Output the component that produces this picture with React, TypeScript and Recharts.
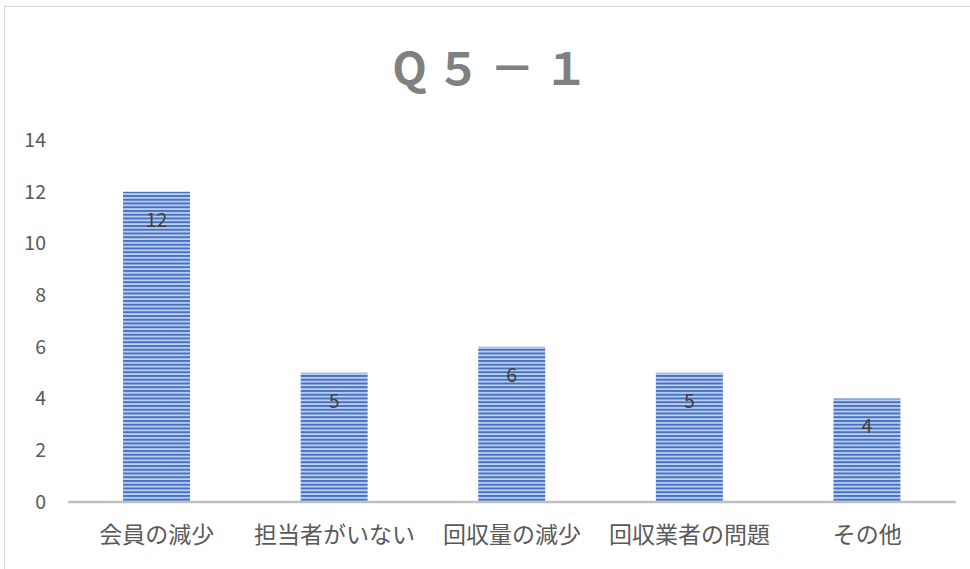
import { BarChart, Bar, XAxis, YAxis, LabelList } from "recharts";

const CATEGORIES = ["会員の減少", "担当者がいない", "回収量の減少", "回収業者の問題", "その他"];
const VALUES = [12, 5, 6, 5, 4];
const Y_TICKS = [0, 2, 4, 6, 8, 10, 12, 14];
const TITLE = "Q５－１";

const data = CATEGORIES.map((name, i) => ({ name, value: VALUES[i] }));

const FONT = "'Noto Sans CJK JP', 'Noto Sans', sans-serif";

export default function App() {
  return (
    <div style={{ position: "fixed", left: 0, top: 0, width: 970, height: 569, overflow: "hidden", background: "#fff" }}>
      <div
        style={{
          position: "absolute",
          left: 4,
          top: 6,
          width: 1000,
          height: 600,
          border: "1.5px solid #d9d9d9",
          boxSizing: "border-box",
        }}
      />
      <div
        style={{
          position: "absolute",
          left: 0,
          top: 36,
          width: 990,
          textAlign: "center",
          fontFamily: FONT,
          fontWeight: 700,
          fontSize: 45,
          letterSpacing: 9,
          color: "#808080",
          lineHeight: "60px",
        }}
      >
        {TITLE}
      </div>
      <div style={{ position: "absolute", left: 0, top: 0 }}>
        <BarChart
          width={970}
          height={569}
          data={data}
          margin={{ top: 140, right: 14, bottom: 27, left: 0 }}
          barCategoryGap="31%"
        >
          <defs>
            <pattern id="stripes" width="8" height="3.75" patternUnits="userSpaceOnUse">
              <rect x="0" y="0" width="8" height="3.75" fill="#c3d2ee" />
              <rect x="0" y="0" width="8" height="2" fill="#4472c4" />
            </pattern>
          </defs>
          <XAxis
            dataKey="name"
            axisLine={{ stroke: "#bfbfbf", strokeWidth: 2.5 }}
            tickLine={false}
            tickSize={0}
            tickMargin={25}
            height={40}
            interval={0}
            tick={{ fill: "#595959", fontSize: 23, fontFamily: FONT }}
          />
          <YAxis
            width={68}
            domain={[0, 14]}
            ticks={Y_TICKS}
            axisLine={false}
            tickLine={false}
            tickSize={0}
            tickMargin={22}
            tick={{ fill: "#595959", fontSize: 19.5, fontFamily: FONT }}
          />
          <Bar dataKey="value" fill="url(#stripes)" isAnimationActive={false}>
            <LabelList
              dataKey="value"
              position="insideTop"
              offset={21}
              fill="#404040"
              fontSize={19.5}
              fontFamily={FONT}
            />
          </Bar>
        </BarChart>
      </div>
    </div>
  );
}
